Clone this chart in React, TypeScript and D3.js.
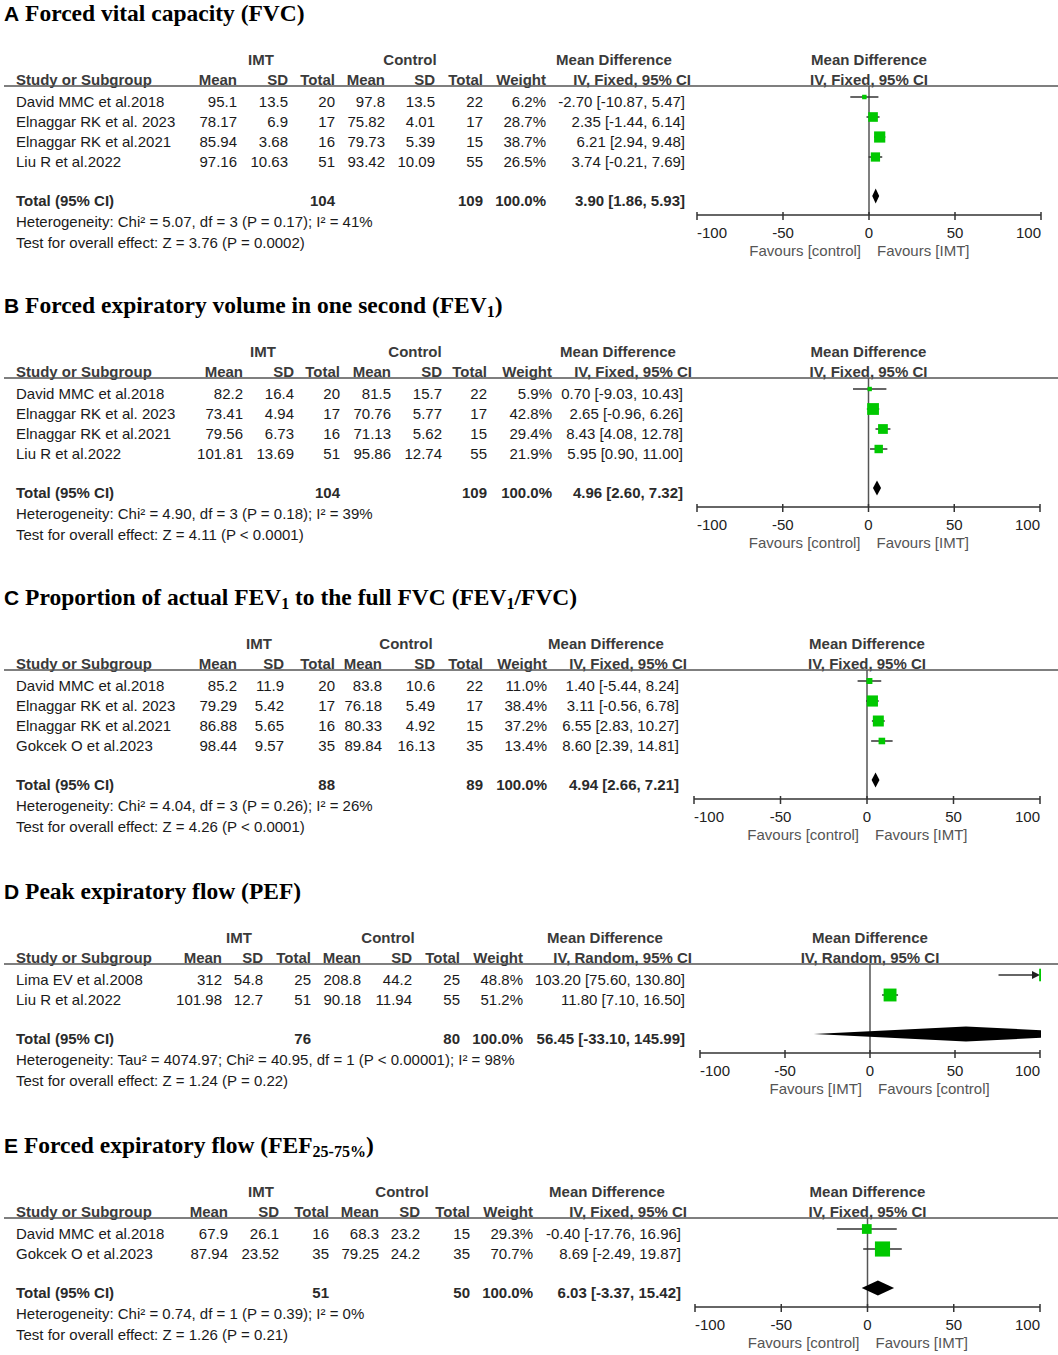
import React, { useEffect } from 'react';
import * as d3 from 'd3';

const W = 1058;
const H = 1355;

type Seg = { t: string; sub?: boolean };

// ---- A: FVC
const titleA: Seg[] = [{ t: 'Forced vital capacity (FVC)' }];
const studiesA = ['David MMC et al.2018', 'Elnaggar RK et al. 2023', 'Elnaggar RK et al.2021', 'Liu R et al.2022'];
const imtMeanA = [95.1, 78.17, 85.94, 97.16];
const imtSdA = [13.5, 6.9, 3.68, 10.63];
const imtNA = [20, 17, 16, 51];
const ctlMeanA = [97.8, 75.82, 79.73, 93.42];
const ctlSdA = [13.5, 4.01, 5.39, 10.09];
const ctlNA = [22, 17, 15, 55];
const weightA = [6.2, 28.7, 38.7, 26.5];
const mdA = [-2.7, 2.35, 6.21, 3.74];
const loA = [-10.87, -1.44, 2.94, -0.21];
const hiA = [5.47, 6.14, 9.48, 7.69];
const totalsA = [104, 109];
const pooledA = [3.9, 1.86, 5.93];
const hetA = 'Heterogeneity: Chi² = 5.07, df = 3 (P = 0.17); I² = 41%';
const testA = 'Test for overall effect: Z = 3.76 (P = 0.0002)';

// ---- B: FEV1
const titleB: Seg[] = [{ t: 'Forced expiratory volume in one second (FEV' }, { t: '1', sub: true }, { t: ')' }];
const studiesB = ['David MMC et al.2018', 'Elnaggar RK et al. 2023', 'Elnaggar RK et al.2021', 'Liu R et al.2022'];
const imtMeanB = [82.2, 73.41, 79.56, 101.81];
const imtSdB = [16.4, 4.94, 6.73, 13.69];
const imtNB = [20, 17, 16, 51];
const ctlMeanB = [81.5, 70.76, 71.13, 95.86];
const ctlSdB = [15.7, 5.77, 5.62, 12.74];
const ctlNB = [22, 17, 15, 55];
const weightB = [5.9, 42.8, 29.4, 21.9];
const mdB = [0.7, 2.65, 8.43, 5.95];
const loB = [-9.03, -0.96, 4.08, 0.9];
const hiB = [10.43, 6.26, 12.78, 11.0];
const totalsB = [104, 109];
const pooledB = [4.96, 2.6, 7.32];
const hetB = 'Heterogeneity: Chi² = 4.90, df = 3 (P = 0.18); I² = 39%';
const testB = 'Test for overall effect: Z = 4.11 (P < 0.0001)';

// ---- C: FEV1/FVC
const titleC: Seg[] = [
  { t: 'Proportion of actual FEV' }, { t: '1', sub: true }, { t: ' to the full FVC (FEV' }, { t: '1', sub: true }, { t: '/FVC)' },
];
const studiesC = ['David MMC et al.2018', 'Elnaggar RK et al. 2023', 'Elnaggar RK et al.2021', 'Gokcek O et al.2023'];
const imtMeanC = [85.2, 79.29, 86.88, 98.44];
const imtSdC = [11.9, 5.42, 5.65, 9.57];
const imtNC = [20, 17, 16, 35];
const ctlMeanC = [83.8, 76.18, 80.33, 89.84];
const ctlSdC = [10.6, 5.49, 4.92, 16.13];
const ctlNC = [22, 17, 15, 35];
const weightC = [11.0, 38.4, 37.2, 13.4];
const mdC = [1.4, 3.11, 6.55, 8.6];
const loC = [-5.44, -0.56, 2.83, 2.39];
const hiC = [8.24, 6.78, 10.27, 14.81];
const totalsC = [88, 89];
const pooledC = [4.94, 2.66, 7.21];
const hetC = 'Heterogeneity: Chi² = 4.04, df = 3 (P = 0.26); I² = 26%';
const testC = 'Test for overall effect: Z = 4.26 (P < 0.0001)';

// ---- D: PEF
const titleD: Seg[] = [{ t: 'Peak expiratory flow (PEF)' }];
const studiesD = ['Lima EV et al.2008', 'Liu R et al.2022'];
const imtMeanD = [312, 101.98];
const imtSdD = [54.8, 12.7];
const imtND = [25, 51];
const ctlMeanD = [208.8, 90.18];
const ctlSdD = [44.2, 11.94];
const ctlND = [25, 55];
const weightD = [48.8, 51.2];
const mdD = [103.2, 11.8];
const loD = [75.6, 7.1];
const hiD = [130.8, 16.5];
const totalsD = [76, 80];
const pooledD = [56.45, -33.1, 145.99];
const hetD = 'Heterogeneity: Tau² = 4074.97; Chi² = 40.95, df = 1 (P < 0.00001); I² = 98%';
const testD = 'Test for overall effect: Z = 1.24 (P = 0.22)';

// ---- E: FEF25-75%
const titleE: Seg[] = [{ t: 'Forced expiratory flow (FEF' }, { t: '25-75%', sub: true }, { t: ')' }];
const studiesE = ['David MMC et al.2018', 'Gokcek O et al.2023'];
const imtMeanE = [67.9, 87.94];
const imtSdE = [26.1, 23.52];
const imtNE = [16, 35];
const ctlMeanE = [68.3, 79.25];
const ctlSdE = [23.2, 24.2];
const ctlNE = [15, 35];
const weightE = [29.3, 70.7];
const mdE = [-0.4, 8.69];
const loE = [-17.76, -2.49];
const hiE = [16.96, 19.87];
const totalsE = [51, 50];
const pooledE = [6.03, -3.37, 15.42];
const hetE = 'Heterogeneity: Chi² = 0.74, df = 1 (P = 0.39); I² = 0%';
const testE = 'Test for overall effect: Z = 1.26 (P = 0.21)';

const tickValues = [-100, -50, 0, 50, 100];
const fixedLabel = 'IV, Fixed, 95% CI';
const randomLabel = 'IV, Random, 95% CI';
const favControl = 'Favours [control]';
const favIMT = 'Favours [IMT]';

const SANS = '"Liberation Sans", Arial, sans-serif';
const SERIF = '"Liberation Serif", "Times New Roman", serif';
const GREEN = '#00c800';
const FS = 15;

type Cols = {
  mean: number; sd: number; n: number; cmean: number; csd: number; cn: number;
  w: number; ciHead: number; ci: number; imtHead: number; ctlHead: number; mdHead: number;
};

type PanelProps = {
  id: string;
  letter: string;
  title: Seg[];
  y0: number;
  cols: Cols;
  range: [number, number];
  method: string;
  favours: [string, string];
  studies: string[];
  imtMean: number[]; imtSd: number[]; imtN: number[];
  ctlMean: number[]; ctlSd: number[]; ctlN: number[];
  weight: number[]; md: number[]; lo: number[]; hi: number[];
  totals: number[]; pooled: number[];
  het: string; test: string;
};

const Title = ({ letter, title, y }: { letter: string; title: Seg[]; y: number }) => {
  let prevSub = false;
  return (
    <text x={4} y={y} fill="#000" fontWeight="bold">
      <tspan fontFamily={SANS} fontSize={21}>{letter}</tspan>
      <tspan fontFamily={SERIF} fontSize={23.5}>{' '}</tspan>
      {title.map((s, i) => {
        const dy = s.sub ? (prevSub ? 0 : 4) : prevSub ? -4 : 0;
        prevSub = !!s.sub;
        return (
          <tspan key={i} fontFamily={SERIF} fontSize={s.sub ? 16 : 23.5} dy={dy}>
            {s.t}
          </tspan>
        );
      })}
    </text>
  );
};

const Panel = (p: PanelProps) => {
  const { y0, cols } = p;
  const x = d3.scaleLinear().domain([-100, 100]).range(p.range);
  const n = p.studies.length;
  const rowY = d3.scaleLinear().domain([0, 1]).range([y0 + 42, y0 + 62]);
  const totalY = rowY(n - 1) + 39;
  const axisY = totalY + 15;
  const lineY = y0 + 27;
  const side = (w: number) => 1.8 * Math.sqrt(w);
  const [pm, plo, phi] = p.pooled;
  const dy = -4;
  const diamond = d3.line()([
    [x(plo), totalY + dy],
    [x(pm), totalY + dy - 7.5],
    [x(phi), totalY + dy],
    [x(pm), totalY + dy + 7.5],
  ]) + 'Z';
  const clipId = `clip-${p.id}`;
  const txt = { fontFamily: SANS, fontSize: FS, fill: '#1a1a1a' };
  const head = { fontFamily: SANS, fontSize: FS, fill: '#3a3a3a', fontWeight: 'bold' as const };
  const b = 5.5; // baseline offset from row centre

  return (
    <g>
      <Title letter={p.letter} title={p.title} y={y0 - 38} />

      {/* column headers */}
      <g {...head}>
        <text x={cols.imtHead} y={y0 + b} textAnchor="middle">IMT</text>
        <text x={cols.ctlHead} y={y0 + b} textAnchor="middle">Control</text>
        <text x={cols.mdHead} y={y0 + b} textAnchor="middle">Mean Difference</text>
        <text x={16} y={y0 + 20 + b}>Study or Subgroup</text>
        <text x={cols.mean} y={y0 + 20 + b} textAnchor="end">Mean</text>
        <text x={cols.sd} y={y0 + 20 + b} textAnchor="end">SD</text>
        <text x={cols.n} y={y0 + 20 + b} textAnchor="end">Total</text>
        <text x={cols.cmean} y={y0 + 20 + b} textAnchor="end">Mean</text>
        <text x={cols.csd} y={y0 + 20 + b} textAnchor="end">SD</text>
        <text x={cols.cn} y={y0 + 20 + b} textAnchor="end">Total</text>
        <text x={cols.w} y={y0 + 20 + b} textAnchor="end">Weight</text>
        <text x={cols.ciHead} y={y0 + 20 + b} textAnchor="end">{p.method}</text>
        <text x={x(0)} y={y0 + b} textAnchor="middle">Mean Difference</text>
        <text x={x(0)} y={y0 + 20 + b} textAnchor="middle">{p.method}</text>
      </g>
      <line x1={4} x2={W} y1={lineY} y2={lineY} stroke="#555" strokeWidth={1.5} />

      {/* study rows */}
      <g {...txt}>
        {p.studies.map((s, i) => {
          const y = rowY(i) + b;
          return (
            <g key={s + i}>
              <text x={16} y={y}>{s}</text>
              <text x={cols.mean} y={y} textAnchor="end">{String(p.imtMean[i])}</text>
              <text x={cols.sd} y={y} textAnchor="end">{String(p.imtSd[i])}</text>
              <text x={cols.n} y={y} textAnchor="end">{p.imtN[i]}</text>
              <text x={cols.cmean} y={y} textAnchor="end">{String(p.ctlMean[i])}</text>
              <text x={cols.csd} y={y} textAnchor="end">{String(p.ctlSd[i])}</text>
              <text x={cols.cn} y={y} textAnchor="end">{p.ctlN[i]}</text>
              <text x={cols.w} y={y} textAnchor="end">{p.weight[i].toFixed(1)}%</text>
              <text x={cols.ci} y={y} textAnchor="end">
                {`${p.md[i].toFixed(2)} [${p.lo[i].toFixed(2)}, ${p.hi[i].toFixed(2)}]`}
              </text>
            </g>
          );
        })}
      </g>

      {/* total row */}
      <g {...txt} fontWeight="bold" fill="#2a2a2a">
        <text x={16} y={totalY + b}>Total (95% CI)</text>
        <text x={cols.n} y={totalY + b} textAnchor="end">{p.totals[0]}</text>
        <text x={cols.cn} y={totalY + b} textAnchor="end">{p.totals[1]}</text>
        <text x={cols.w} y={totalY + b} textAnchor="end">100.0%</text>
        <text x={cols.ci} y={totalY + b} textAnchor="end">
          {`${pm.toFixed(2)} [${plo.toFixed(2)}, ${phi.toFixed(2)}]`}
        </text>
      </g>
      <text {...txt} x={16} y={totalY + 21 + b}>{p.het}</text>
      <text {...txt} x={16} y={totalY + 42 + b}>{p.test}</text>

      {/* forest plot */}
      <clipPath id={clipId}>
        <rect x={x(-100) - 1} y={y0} width={x(100) - x(-100) + 2} height={axisY - y0} />
      </clipPath>
      <line x1={x(0)} x2={x(0)} y1={lineY} y2={axisY} stroke="#555" strokeWidth={1.5} />
      <g clipPath={`url(#${clipId})`}>
        {p.studies.map((s, i) => {
          const y = rowY(i) + dy;
          const out = p.hi[i] > 100;
          const xe = out ? x(100) - 7 : x(p.hi[i]);
          const sz = side(p.weight[i]);
          return (
            <g key={'f' + i}>
              <line x1={x(p.lo[i])} x2={xe} y1={y} y2={y} stroke="#333" strokeWidth={1.5} />
              {out && (
                <path
                  d={`M${x(100)},${y}L${x(100) - 8},${y - 4}L${x(100) - 8},${y + 4}Z`}
                  fill="#222"
                />
              )}
              <rect x={x(p.md[i]) - sz / 2} y={y - sz / 2} width={sz} height={sz} fill={GREEN} />
            </g>
          );
        })}
        <path d={diamond} fill="#000" />
      </g>

      {/* axis */}
      <line x1={x(-100)} x2={x(100)} y1={axisY} y2={axisY} stroke="#333" strokeWidth={1.5} />
      {tickValues.map((t, i) => (
        <g key={'t' + t}>
          <line x1={x(t)} x2={x(t)} y1={axisY - 3} y2={axisY + 5} stroke="#333" strokeWidth={1.5} />
          <text
            {...txt}
            fill="#222"
            x={x(t)}
            y={axisY + 23}
            textAnchor={i === 0 ? 'start' : i === tickValues.length - 1 ? 'end' : 'middle'}
          >
            {t}
          </text>
        </g>
      ))}
      <text {...txt} fill="#555" x={x(0) - 8} y={axisY + 41} textAnchor="end">{p.favours[0]}</text>
      <text {...txt} fill="#555" x={x(0) + 8} y={axisY + 41}>{p.favours[1]}</text>
    </g>
  );
};

export default function App() {
  useEffect(() => {
    document.body.style.margin = '0';
  }, []);

  return (
    <div style={{ position: 'absolute', left: 0, top: 0, background: '#fff' }}>
      <svg width={W} height={H} style={{ display: 'block' }}>
        <rect width={W} height={H} fill="#fff" />
        <Panel
          id="a" letter="A" title={titleA} y0={59}
          cols={{ mean: 237, sd: 288, n: 335, cmean: 385, csd: 435, cn: 483, w: 546, ciHead: 691, ci: 685, imtHead: 261, ctlHead: 410, mdHead: 614 }}
          range={[697, 1041]} method={fixedLabel} favours={[favControl, favIMT]}
          studies={studiesA} imtMean={imtMeanA} imtSd={imtSdA} imtN={imtNA}
          ctlMean={ctlMeanA} ctlSd={ctlSdA} ctlN={ctlNA}
          weight={weightA} md={mdA} lo={loA} hi={hiA}
          totals={totalsA} pooled={pooledA} het={hetA} test={testA}
        />
        <Panel
          id="b" letter="B" title={titleB} y0={351}
          cols={{ mean: 243, sd: 294, n: 340, cmean: 391, csd: 442, cn: 487, w: 552, ciHead: 692, ci: 683, imtHead: 263, ctlHead: 415, mdHead: 618 }}
          range={[697, 1040]} method={fixedLabel} favours={[favControl, favIMT]}
          studies={studiesB} imtMean={imtMeanB} imtSd={imtSdB} imtN={imtNB}
          ctlMean={ctlMeanB} ctlSd={ctlSdB} ctlN={ctlNB}
          weight={weightB} md={mdB} lo={loB} hi={hiB}
          totals={totalsB} pooled={pooledB} het={hetB} test={testB}
        />
        <Panel
          id="c" letter="C" title={titleC} y0={643}
          cols={{ mean: 237, sd: 284, n: 335, cmean: 382, csd: 435, cn: 483, w: 547, ciHead: 687, ci: 679, imtHead: 259, ctlHead: 406, mdHead: 606 }}
          range={[694, 1040]} method={fixedLabel} favours={[favControl, favIMT]}
          studies={studiesC} imtMean={imtMeanC} imtSd={imtSdC} imtN={imtNC}
          ctlMean={ctlMeanC} ctlSd={ctlSdC} ctlN={ctlNC}
          weight={weightC} md={mdC} lo={loC} hi={hiC}
          totals={totalsC} pooled={pooledC} het={hetC} test={testC}
        />
        <Panel
          id="d" letter="D" title={titleD} y0={937}
          cols={{ mean: 222, sd: 263, n: 311, cmean: 361, csd: 412, cn: 460, w: 523, ciHead: 692, ci: 685, imtHead: 239, ctlHead: 388, mdHead: 605 }}
          range={[700, 1040]} method={randomLabel} favours={[favIMT, favControl]}
          studies={studiesD} imtMean={imtMeanD} imtSd={imtSdD} imtN={imtND}
          ctlMean={ctlMeanD} ctlSd={ctlSdD} ctlN={ctlND}
          weight={weightD} md={mdD} lo={loD} hi={hiD}
          totals={totalsD} pooled={pooledD} het={hetD} test={testD}
        />
        <Panel
          id="e" letter="E" title={titleE} y0={1191}
          cols={{ mean: 228, sd: 279, n: 329, cmean: 379, csd: 420, cn: 470, w: 533, ciHead: 687, ci: 681, imtHead: 261, ctlHead: 402, mdHead: 607 }}
          range={[695, 1040]} method={fixedLabel} favours={[favControl, favIMT]}
          studies={studiesE} imtMean={imtMeanE} imtSd={imtSdE} imtN={imtNE}
          ctlMean={ctlMeanE} ctlSd={ctlSdE} ctlN={ctlNE}
          weight={weightE} md={mdE} lo={loE} hi={hiE}
          totals={totalsE} pooled={pooledE} het={hetE} test={testE}
        />
      </svg>
    </div>
  );
}
